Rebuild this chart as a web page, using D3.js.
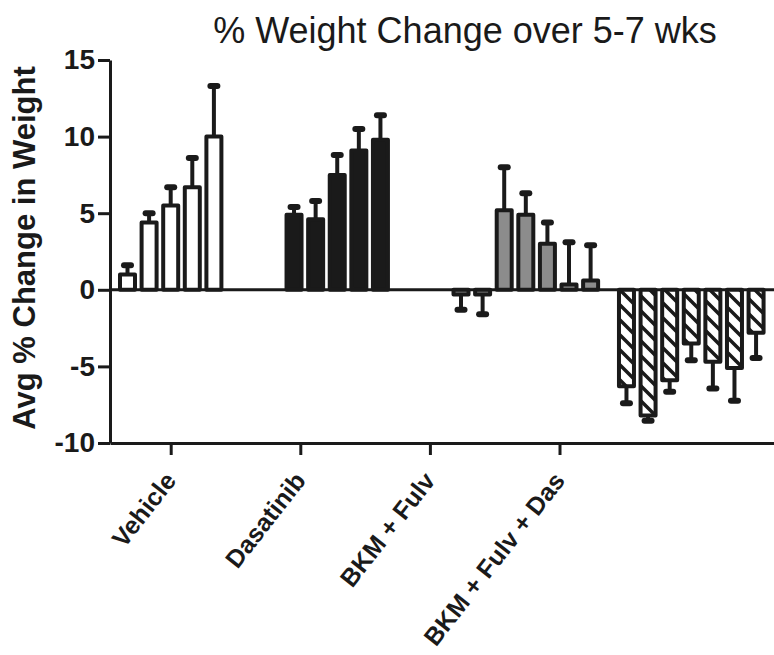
<!DOCTYPE html>
<html>
<head>
<meta charset="utf-8">
<script src="https://cdn.jsdelivr.net/npm/d3@7.9.0/dist/d3.min.js"></script>
<style>
  body { margin: 0; background: #fff; }
  svg { display: block; font-family: "Liberation Sans", Arial, sans-serif; }
</style>
</head>
<body>
<svg id="chart" width="774" height="655"></svg>
<script>
// categories and their tick position (in bar-slot units)
const categories = ["Vehicle", "Dasatinib", "BKM + Fulv", "BKM + Fulv + Das"];
const categorySlot = [2, 8, 14, 20];
// slot of the first bar in each group
const groupStart = [0, 7.71, 15.44, 23.1];

// mean % change per bar and the end of its error bar
const vehicle = [1.0, 4.4, 5.5, 6.7, 10.0];
const vehicleErr = [1.6, 5.0, 6.7, 8.6, 13.3];
const dasatinib = [4.9, 4.6, 7.5, 9.1, 9.8];
const dasatinibErr = [5.4, 5.8, 8.8, 10.5, 11.4];
const bkmFulv = [-0.3, -0.3, 5.2, 4.9, 3.0, 0.35, 0.6];
const bkmFulvErr = [-1.3, -1.6, 8.0, 6.3, 4.4, 3.1, 2.9];
const bkmFulvDas = [-6.3, -8.2, -5.9, -3.5, -4.7, -5.1, -2.8];
const bkmFulvDasErr = [-7.4, -8.55, -6.65, -4.6, -6.45, -7.25, -4.45];

const yTicks = [-10, -5, 0, 5, 10, 15];

const groups = [
  { name: categories[0], values: vehicle, err: vehicleErr, fill: "#ffffff" },
  { name: categories[1], values: dasatinib, err: dasatinibErr, fill: "#1a1a1a" },
  { name: categories[2], values: bkmFulv, err: bkmFulvErr, fill: "#8c8c8c" },
  { name: categories[3], values: bkmFulvDas, err: bkmFulvDasErr, fill: "url(#hatch)" }
];

const bars = [];
groups.forEach((g, gi) => {
  g.values.forEach((v, i) => {
    bars.push({ slot: groupStart[gi] + i, value: v, err: g.err[i], fill: g.fill });
  });
});

const ink = "#1a1a1a";
const svg = d3.select("#chart");

const x = d3.scaleLinear().domain([-0.81, 29.93]).range([110, 774]);
const y = d3.scaleLinear().domain([-10, 15]).range([443, 60]);
const barW = 15;

// hatch pattern for the last group
const defs = svg.append("defs");
const pat = defs.append("pattern")
  .attr("id", "hatch")
  .attr("patternUnits", "userSpaceOnUse")
  .attr("width", 15)
  .attr("height", 15);
pat.append("rect").attr("width", 15).attr("height", 15).attr("fill", "#fff");
pat.append("path")
  .attr("d", "M-3,-3L18,18M-3,12L3,18M12,-3L18,3")
  .attr("stroke", ink)
  .attr("stroke-width", 3.5);

// title
svg.append("text")
  .attr("x", 465)
  .attr("y", 43)
  .attr("text-anchor", "middle")
  .attr("fill", ink)
  .style("font-size", "36px")
  .text("% Weight Change over 5-7 wks");

// y axis title
svg.append("text")
  .attr("transform", "translate(35,248) rotate(-90)")
  .attr("text-anchor", "middle")
  .attr("fill", ink)
  .style("font-size", "31px")
  .style("font-weight", "bold")
  .text("Avg % Change in Weight");

// zero line
svg.append("line")
  .attr("x1", x.range()[0])
  .attr("x2", x.range()[1])
  .attr("y1", y(0))
  .attr("y2", y(0))
  .attr("stroke", ink)
  .attr("stroke-width", 3);

// error bars (one-sided, away from zero)
const eb = svg.append("g").attr("class", "errors");
eb.selectAll("line")
  .data(bars)
  .join("line")
  .attr("x1", (d) => x(d.slot))
  .attr("x2", (d) => x(d.slot))
  .attr("y1", (d) => y(d.value))
  .attr("y2", (d) => y(d.err))
  .attr("stroke", ink)
  .attr("stroke-width", 4);

eb.selectAll("rect")
  .data(bars)
  .join("rect")
  .attr("x", (d) => x(d.slot) - 6.5)
  .attr("y", (d) => y(d.err) - 3)
  .attr("width", 13)
  .attr("height", 6)
  .attr("rx", 3)
  .attr("fill", ink);

// bars
svg.append("g")
  .selectAll("rect")
  .data(bars)
  .join("rect")
  .attr("x", (d) => x(d.slot) - barW / 2)
  .attr("y", (d) => y(Math.max(0, d.value)))
  .attr("width", barW)
  .attr("height", (d) => Math.abs(y(d.value) - y(0)))
  .attr("fill", (d) => d.fill)
  .attr("stroke", ink)
  .attr("stroke-width", 4)
  .attr("stroke-linejoin", "round");

// y axis
const yAxis = svg.append("g")
  .attr("transform", `translate(${x.range()[0]},0)`)
  .call(d3.axisLeft(y)
    .tickValues(yTicks)
    .tickFormat((d) => String(d))
    .tickSize(12)
    .tickSizeOuter(0)
    .tickPadding(3));
yAxis.select(".domain").attr("stroke", ink).attr("stroke-width", 3);
yAxis.selectAll(".tick line").attr("stroke", ink).attr("stroke-width", 3);
yAxis.selectAll(".tick text")
  .attr("fill", ink)
  .style("font-family", "'Liberation Sans', Arial, sans-serif")
  .style("font-size", "28px")
  .style("font-weight", "bold");

// x axis
const xAxis = svg.append("g")
  .attr("transform", `translate(0,${y(-10)})`)
  .call(d3.axisBottom(x)
    .tickValues(categorySlot)
    .tickFormat((d, i) => categories[i])
    .tickSize(12)
    .tickSizeOuter(0));
xAxis.select(".domain").attr("stroke", ink).attr("stroke-width", 3);
xAxis.selectAll(".tick line").attr("stroke", ink).attr("stroke-width", 3);
xAxis.selectAll(".tick text")
  .attr("fill", ink)
  .attr("text-anchor", "end")
  .attr("dy", null)
  .attr("y", null)
  .attr("transform", "translate(6,38) rotate(-52)")
  .style("font-family", "'Liberation Sans', Arial, sans-serif")
  .style("font-size", "25px")
  .style("font-weight", "bold");
</script>
</body>
</html>
